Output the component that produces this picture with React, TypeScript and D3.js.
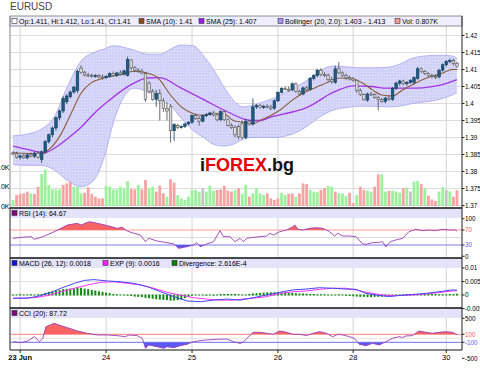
import React from 'react';
import * as d3 from 'd3';

// hourly EURUSD candles, 22 Jun 22:00 .. 30 Jun 03:00
const candleOpen = [
  1.3855, 1.3852, 1.3842, 1.3846, 1.3840, 1.3849, 1.3845, 1.3854, 1.3835, 1.3858,
  1.3888, 1.3908, 1.3928, 1.3958, 1.3978, 1.4005, 1.4020, 1.4034, 1.4038, 1.4104,
  1.4092, 1.4084, 1.4082, 1.4080, 1.4082, 1.4078, 1.4076, 1.4080, 1.4088, 1.4082,
  1.4090, 1.4086, 1.4082, 1.4128, 1.4105, 1.4098, 1.4095, 1.4088, 1.4060, 1.4036,
  1.4012, 1.4030, 1.4008, 1.3985, 1.3992, 1.3920, 1.3935, 1.3930, 1.3932, 1.3940,
  1.3945, 1.3965, 1.3956, 1.3948, 1.3964, 1.3968, 1.3972, 1.3966, 1.3952, 1.3976,
  1.3952, 1.3936, 1.3930, 1.3932, 1.3940, 1.3900, 1.3948, 1.3940, 1.3990, 1.3994,
  1.3988, 1.3992, 1.3990, 1.3986, 1.4008, 1.4032, 1.4044, 1.4042, 1.4040, 1.4058,
  1.4036, 1.4028, 1.4046, 1.4042, 1.4074, 1.4082, 1.4098, 1.4085, 1.4082, 1.4070,
  1.4062, 1.4102, 1.4090, 1.4082, 1.4076, 1.4072, 1.4068, 1.4038, 1.4026, 1.4010,
  1.4028, 1.4026, 1.4018, 1.4012, 1.4006, 1.4016, 1.4012, 1.4045, 1.4060, 1.4066,
  1.4058, 1.4062, 1.4062, 1.4074, 1.4102, 1.4094, 1.4088, 1.4082, 1.4080, 1.4078,
  1.4098, 1.4114, 1.4124, 1.4126, 1.4118,
];
const candleHigh = [
  1.3860, 1.3858, 1.3850, 1.3852, 1.3852, 1.3856, 1.3858, 1.3860, 1.3862, 1.3892,
  1.3912, 1.3932, 1.3962, 1.3982, 1.4022, 1.4028, 1.4038, 1.4052, 1.4100, 1.4112,
  1.4096, 1.4090, 1.4088, 1.4086, 1.4086, 1.4085, 1.4084, 1.4092, 1.4094, 1.4092,
  1.4098, 1.4100, 1.4138, 1.4130, 1.4110, 1.4104, 1.4102, 1.4092, 1.4066, 1.4042,
  1.4040, 1.4042, 1.4015, 1.4002, 1.3998, 1.3942, 1.3940, 1.3936, 1.3942, 1.3948,
  1.3968, 1.3970, 1.3962, 1.3968, 1.3972, 1.3976, 1.3978, 1.3972, 1.3980, 1.3980,
  1.3956, 1.3942, 1.3936, 1.3938, 1.3950, 1.3955, 1.3952, 1.4015, 1.3998, 1.3998,
  1.3996, 1.3998, 1.3996, 1.4012, 1.4036, 1.4048, 1.4050, 1.4050, 1.4062, 1.4062,
  1.4040, 1.4050, 1.4052, 1.4078, 1.4086, 1.4102, 1.4104, 1.4092, 1.4088, 1.4078,
  1.4112, 1.4122, 1.4094, 1.4088, 1.4082, 1.4078, 1.4070, 1.4044, 1.4030, 1.4032,
  1.4034, 1.4030, 1.4022, 1.4016, 1.4020, 1.4024, 1.4048, 1.4064, 1.4070, 1.4070,
  1.4066, 1.4072, 1.4080, 1.4108, 1.4106, 1.4098, 1.4092, 1.4088, 1.4086, 1.4102,
  1.4118, 1.4128, 1.4132, 1.4132, 1.4122,
];
const candleLow = [
  1.3848, 1.3838, 1.3835, 1.3838, 1.3836, 1.3842, 1.3840, 1.3838, 1.3825, 1.3852,
  1.3882, 1.3900, 1.3920, 1.3950, 1.3972, 1.3998, 1.4015, 1.4028, 1.4030, 1.4088,
  1.4080, 1.4078, 1.4076, 1.4076, 1.4074, 1.4070, 1.4072, 1.4076, 1.4078, 1.4078,
  1.4082, 1.4082, 1.4080, 1.4098, 1.4092, 1.4090, 1.4086, 1.4005, 1.4030, 1.4008,
  1.3990, 1.3950, 1.3975, 1.3950, 1.3885, 1.3890, 1.3925, 1.3926, 1.3928, 1.3936,
  1.3940, 1.3952, 1.3935, 1.3945, 1.3960, 1.3964, 1.3962, 1.3948, 1.3948, 1.3948,
  1.3932, 1.3925, 1.3900, 1.3895, 1.3895, 1.3895, 1.3935, 1.3935, 1.3984, 1.3985,
  1.3984, 1.3986, 1.3980, 1.3982, 1.4004, 1.4030, 1.4038, 1.4034, 1.4036, 1.4032,
  1.4024, 1.4024, 1.4036, 1.4038, 1.4068, 1.4078, 1.4080, 1.4078, 1.4066, 1.4058,
  1.4058, 1.4086, 1.4078, 1.4070, 1.4068, 1.4064, 1.4032, 1.4022, 1.4008, 1.4005,
  1.4022, 1.4014, 1.3980, 1.4002, 1.4000, 1.4008, 1.4008, 1.4040, 1.4052, 1.4054,
  1.4052, 1.4058, 1.4056, 1.4070, 1.4090, 1.4084, 1.4078, 1.4074, 1.4072, 1.4074,
  1.4094, 1.4108, 1.4118, 1.4112, 1.4104,
];
const candleClose = [
  1.3852, 1.3842, 1.3846, 1.3840, 1.3849, 1.3845, 1.3854, 1.3842, 1.3858, 1.3888,
  1.3908, 1.3928, 1.3958, 1.3978, 1.4015, 1.4022, 1.4034, 1.4048, 1.4094, 1.4092,
  1.4084, 1.4082, 1.4080, 1.4082, 1.4078, 1.4076, 1.4080, 1.4088, 1.4082, 1.4090,
  1.4086, 1.4096, 1.4130, 1.4105, 1.4098, 1.4095, 1.4090, 1.4012, 1.4036, 1.4012,
  1.4030, 1.4008, 1.3985, 1.3978, 1.3920, 1.3938, 1.3930, 1.3932, 1.3940, 1.3945,
  1.3965, 1.3956, 1.3948, 1.3964, 1.3968, 1.3972, 1.3966, 1.3952, 1.3976, 1.3952,
  1.3936, 1.3930, 1.3908, 1.3902, 1.3900, 1.3948, 1.3940, 1.3990, 1.3994, 1.3988,
  1.3992, 1.3990, 1.3986, 1.4008, 1.4032, 1.4044, 1.4042, 1.4038, 1.4058, 1.4036,
  1.4028, 1.4046, 1.4040, 1.4074, 1.4082, 1.4098, 1.4085, 1.4082, 1.4070, 1.4064,
  1.4102, 1.4090, 1.4082, 1.4076, 1.4072, 1.4068, 1.4038, 1.4026, 1.4012, 1.4028,
  1.4026, 1.4018, 1.4012, 1.4006, 1.4016, 1.4012, 1.4045, 1.4060, 1.4066, 1.4058,
  1.4062, 1.4068, 1.4076, 1.4102, 1.4094, 1.4088, 1.4082, 1.4080, 1.4076, 1.4098,
  1.4114, 1.4124, 1.4126, 1.4118, 1.4110,
];

// volume in K, with the bar tone (g = up, r = down, n = flat)
const volume = [
  0.31, 0.56, 0.62, 0.65, 0.74, 0.65, 0.62, 0.99, 1.64, 1.88,
  1.08, 0.85, 0.85, 0.85, 1.08, 1.16, 1.25, 0.99, 0.99, 0.65,
  0.68, 0.96, 0.62, 0.48, 0.39, 0.39, 1.03, 0.99, 0.85, 0.85,
  0.99, 0.91, 1.28, 0.87, 0.85, 1.08, 0.85, 1.33, 0.91, 0.99,
  0.74, 1.04, 0.65, 0.48, 1.37, 1.20, 0.56, 0.39, 0.31, 0.48,
  0.82, 0.82, 0.74, 0.91, 0.74, 1.04, 0.79, 0.82, 0.85, 1.03,
  0.79, 0.74, 0.82, 0.91, 0.62, 1.08, 0.48, 0.65, 0.91, 0.65,
  0.56, 0.65, 0.39, 0.31, 0.39, 0.68, 0.56, 0.62, 0.65, 0.48,
  0.65, 1.16, 1.13, 0.82, 0.74, 0.70, 0.82, 0.91, 1.03, 0.99,
  0.74, 0.65, 0.65, 0.51, 0.68, 0.14, 0.56, 0.99, 0.82, 0.79,
  0.74, 0.99, 1.62, 1.62, 0.74, 0.77, 0.79, 0.74, 0.68, 0.91,
  0.94, 0.74, 1.25, 1.28, 1.13, 0.91, 0.53, 0.34, 0.26, 0.74,
  0.96, 0.82, 0.75, 0.48, 0.807,
];
const volumeTone = [
  'g', 'r', 'r', 'r', 'r', 'g', 'r', 'r', 'g', 'g',
  'g', 'g', 'g', 'g', 'r', 'r', 'r', 'g', 'g', 'g',
  'r', 'r', 'r', 'r', 'r', 'r', 'g', 'g', 'g', 'g',
  'g', 'g', 'g', 'r', 'r', 'g', 'r', 'r', 'g', 'g',
  'r', 'r', 'r', 'g', 'r', 'r', 'g', 'g', 'g', 'g',
  'g', 'g', 'g', 'n', 'g', 'g', 'g', 'r', 'r', 'r',
  'r', 'r', 'g', 'r', 'g', 'g', 'r', 'g', 'g', 'g',
  'g', 'r', 'r', 'r', 'r', 'g', 'g', 'r', 'r', 'g',
  'r', 'r', 'r', 'g', 'g', 'g', 'r', 'r', 'g', 'g',
  'r', 'g', 'g', 'g', 'r', 'r', 'g', 'r', 'r', 'g',
  'g', 'r', 'r', 'g', 'g', 'r', 'g', 'g', 'g', 'r',
  'g', 'n', 'g', 'g', 'r', 'g', 'r', 'r', 'r', 'g',
  'g', 'n', 'g', 'r', 'r',
];

// overlays as [bar index, value]
const sma10 = [
  [0, 1.3855], [7.8, 1.3852], [10.6, 1.387], [13.4, 1.391], [16.2, 1.397], [19, 1.403],
  [21.7, 1.406], [24.5, 1.4072], [27.3, 1.408], [30, 1.4085], [33.8, 1.4095], [36.5, 1.4092],
  [40.2, 1.4078], [44, 1.4025], [47, 1.399], [50.4, 1.397], [53, 1.3965], [56, 1.397],
  [58.8, 1.397], [61.5, 1.395], [64, 1.3945], [67, 1.394], [69, 1.395], [72, 1.3965],
  [74.5, 1.398], [78, 1.401], [81, 1.403], [84.7, 1.4048], [88.4, 1.4065], [91, 1.4075],
  [95, 1.4072], [97.6, 1.406], [100.4, 1.404], [103, 1.4025], [106, 1.4022], [108.8, 1.404],
  [111.5, 1.4055], [114.3, 1.407], [117, 1.408], [120, 1.409], [122.6, 1.41], [124, 1.41],
];
const sma25 = [
  [0, 1.3875], [4, 1.3865], [8.8, 1.3855], [12.5, 1.3875], [15, 1.3895], [19, 1.393],
  [22.6, 1.397], [26.4, 1.4005], [30, 1.4035], [33.8, 1.406], [37.5, 1.4075], [41, 1.4076],
  [47, 1.4045], [53, 1.4013], [60, 1.3975], [66.6, 1.395], [69, 1.395], [72, 1.396],
  [78, 1.3975], [82, 1.3988], [85, 1.4005], [88, 1.4025], [91, 1.404], [95, 1.4052],
  [100, 1.405], [104.6, 1.4045], [110, 1.4045], [114.3, 1.4046], [119, 1.4053], [124, 1.407],
];

// Bollinger (20, 2.0) band edges at shared bar positions
const bollIdx = [
  0, 4, 8, 11.5, 15, 19, 22.6, 25.4, 28.2, 31, 33.8, 37.5, 41.2, 44, 46.7, 50.4, 53.2,
  56, 58.8, 61.5, 64.3, 67.1, 70, 72.7, 76.4, 80.1, 83.7, 85.6, 89.3, 93, 96.7, 100.4,
  104.1, 107.8, 111.5, 115.2, 119, 122.6, 124,
];
const bollUpper = [
  1.3905, 1.391, 1.3925, 1.396, 1.4045, 1.4125, 1.415, 1.416, 1.417, 1.4165, 1.4157,
  1.4145, 1.4145, 1.416, 1.4172, 1.417, 1.414, 1.41, 1.405, 1.401, 1.399, 1.3995,
  1.4005, 1.4015, 1.4035, 1.4055, 1.408, 1.4095, 1.411, 1.4108, 1.4105, 1.4105,
  1.4106, 1.4115, 1.4133, 1.414, 1.4142, 1.414, 1.4133,
];
const bollLower = [
  1.382, 1.3818, 1.3818, 1.3805, 1.3775, 1.3755, 1.3775, 1.384, 1.395, 1.402, 1.4045,
  1.4035, 1.401, 1.3995, 1.396, 1.392, 1.39, 1.388, 1.3875, 1.388, 1.3895, 1.39,
  1.39, 1.39, 1.3905, 1.392, 1.3945, 1.396, 1.398, 1.3988, 1.3992, 1.3992,
  1.399, 1.3992, 1.4, 1.4005, 1.4012, 1.4025, 1.4032,
];

const rsi = [
  [0, 47.8], [2.3, 50.4], [5.1, 52.2], [6, 45.1], [7.8, 50.4], [10.6, 61.1], [13.4, 74.4],
  [15.2, 83.3], [18, 87.8], [19, 83.3], [21.3, 92.2], [23.6, 87.8], [26.4, 81.6], [29.1, 74.4],
  [30.5, 77.1], [31.9, 67.3], [33.8, 61.1], [35.6, 56.7], [37, 38.9], [37.9, 47.8], [40.2, 40.7],
  [43, 36.2], [44.9, 32.7], [46.3, 21.1], [48.6, 25.6], [50.4, 30], [51.3, 36.2], [52.3, 25.6],
  [54.1, 32.7], [56, 38.9], [57.8, 68.2], [58.8, 52.2], [60.6, 52.2], [62, 38.9], [63.4, 47.8],
  [64.3, 38.9], [65.3, 47.8], [67.1, 50.4], [69, 52.2], [70.8, 54], [71.7, 61.1], [72.7, 56.7],
  [74.5, 65.6], [76.4, 70], [78.2, 78.9], [78.7, 83.3], [79.6, 71.8], [81, 70], [82.8, 74.4],
  [84.7, 76.2], [86.5, 74.4], [88.4, 65.6], [89.8, 54], [90.7, 61.1], [92.1, 54], [94, 54],
  [95.8, 52.2], [97.7, 32.7], [98.6, 31.8], [100.4, 36.2], [102.3, 37.1], [103.2, 38.9],
  [104.1, 25.6], [105.5, 38.9], [106.9, 43.3], [108.8, 47.8], [110.6, 65.6], [112.5, 71.8],
  [114.3, 68.2], [116.2, 70], [118, 68.2], [119.9, 71.8], [121.7, 70], [123.6, 70], [124, 66.5],
];

const macd = [
  [0, -0.0012], [4.1, -0.0012], [7.8, -0.0002], [10.6, 0.001], [13.4, 0.0025], [17.1, 0.0043],
  [19.9, 0.0054], [22.6, 0.0057], [26.4, 0.0052], [30, 0.0049], [33.8, 0.0043], [37.5, 0.0031],
  [41.2, 0.0012], [44.9, -0.0006], [48.6, -0.0022], [52.3, -0.0025], [56, -0.0019], [59.7, -0.0015],
  [63.4, -0.0019], [67.1, -0.001], [70.8, 0], [74.5, 0.001], [78.2, 0.0019], [81.9, 0.0022],
  [85.6, 0.0027], [89.3, 0.0025], [93, 0.0022], [95.8, 0.0021], [98.6, 0.0006], [102.3, -0.0002],
  [105.1, -0.0006], [107.8, -0.0002], [111.5, 0.0002], [115.3, 0.0006], [119, 0.0012],
  [122.7, 0.0019], [124, 0.0018],
];
const macdSignal = [
  [0, -0.0012], [6, -0.001], [9.7, -0.0002], [13.4, 0.0012], [17.1, 0.0025], [20.8, 0.0037],
  [24.5, 0.0047], [28.2, 0.0049], [31.9, 0.0043], [35.6, 0.0037], [39.3, 0.0025], [43, 0.001],
  [46.7, 0], [50.4, -0.001], [54.1, -0.0015], [57.8, -0.0019], [61.5, -0.0019], [63.4, -0.0016],
  [67.1, -0.0012], [70.8, -0.0006], [74.5, 0.0006], [78.2, 0.0012], [81.9, 0.0015], [85.6, 0.0021],
  [89.3, 0.0025], [93, 0.0025], [95.8, 0.0019], [98.6, 0.001], [102.3, 0.0002], [105.1, -0.0002],
  [107.8, -0.0002], [111.5, 0], [115.3, 0.0004], [119, 0.0009], [122.7, 0.0015], [124, 0.0016],
];
const divergence = [
  0.0000, 0.0000, 0.0001, 0.0000, 0.0000, 0.0001, 0.0000, 0.0001, 0.0002, 0.0006,
  0.0010, 0.0012, 0.0015, 0.0017, 0.0020, 0.0021, 0.0022, 0.0023, 0.0025, 0.0025,
  0.0022, 0.0020, 0.0017, 0.0015, 0.0012, 0.0010, 0.0007, 0.0005, 0.0002, 0.0001,
  0.0000, 0.0000, -0.0001, -0.0002, -0.0004, -0.0005, -0.0006, -0.0009, -0.0010, -0.0012,
  -0.0014, -0.0015, -0.0016, -0.0017, -0.0019, -0.0019, -0.0017, -0.0015, -0.0010, -0.0005,
  -0.0001, 0.0000, 0.0000, 0.0000, -0.0001, 0.0000, -0.0001, 0.0000, 0.0002, 0.0002,
  0.0002, 0.0002, 0.0002, 0.0001, 0.0000, 0.0000, 0.0002, 0.0004, 0.0005, 0.0006,
  0.0007, 0.0008, 0.0008, 0.0008, 0.0008, 0.0007, 0.0007, 0.0006, 0.0006, 0.0005,
  0.0004, 0.0004, 0.0003, 0.0002, 0.0002, 0.0001, 0.0001, 0.0001, 0.0000, 0.0000,
  0.0000, 0.0001, 0.0000, -0.0001, -0.0002, -0.0003, -0.0004, -0.0005, -0.0005, -0.0006,
  -0.0006, -0.0005, -0.0005, -0.0004, -0.0003, -0.0002, -0.0001, 0.0000, 0.0000, 0.0001,
  0.0001, 0.0001, 0.0001, 0.0002, 0.0002, 0.0002, 0.0002, 0.0002, 0.0002, 0.0001,
  0.0001, 0.0001, 0.0002, 0.0002, 0.00026,
];

const cci = [
  [0, -84], [2.3, -109], [4.1, -67], [6, 41], [7.4, -84], [8.3, 0], [9.2, 291], [11.5, 374],
  [13.4, 316], [15.2, 266], [18, 183], [20.8, 124], [23.6, 83], [26.4, 83], [29.1, 66],
  [31.4, 41], [32.4, 83], [34.7, 66], [36.1, 0], [37, -250], [37.9, -167], [40.2, -209],
  [42.1, -250], [43, -209], [44.9, -234], [46.7, -184], [48.6, -150], [50.4, -84], [52.3, -59],
  [54.1, -42], [56.9, -26], [59.7, -17], [61.5, -84], [63.4, -126], [64.3, -100], [65.3, 0],
  [67.1, 150], [69, 150], [70.8, 124], [72.7, 100], [74.5, 183], [76.4, 150], [78.2, 100],
  [80.1, 100], [81.9, 66], [83.8, 124], [85.6, 166], [87.5, 124], [89.3, 41], [90.7, 100],
  [92.1, 83], [94, 41], [95.3, 0], [96.7, -150], [98.6, -184], [100.4, -126], [102.3, -167],
  [104.1, -84], [106, 0], [107.8, 41], [108.8, 20], [109.7, 58], [111.5, 66], [113.4, 183],
  [115.3, 150], [117.1, 124], [119, 150], [120.8, 166], [122.7, 150], [124, 90],
];

const priceTicks = [1.37, 1.375, 1.38, 1.385, 1.39, 1.395, 1.4, 1.405, 1.41, 1.415, 1.42];
const volumeTicks = [0, 1, 2];
const volumeTickLabels = ['0K', '1.0K', '2.0K'];
const rsiTicks = [0, 30, 70, 100];
const macdTicks = [-0.005, 0, 0.005, 0.01];
const cciTicks = [-500, -100, 100, 500];
const dayTicks = [2, 26, 50, 74, 95, 121];
const dayLabels = ['23 Jun', '24', '25', '26', '28', '30'];

const FONT = 'Liberation Sans, Arial, sans-serif';
const L = 10;
const R = 462;
const AXIS_FS = 6.3;

const App = () => {
  const x = d3.scaleLinear().domain([0, 124]).range([13, 457]);
  const yP = d3.scaleLinear().domain([1.37, 1.42]).range([205.5, 35.5]);
  const yV = d3.scaleLinear().domain([0, 2]).range([206, 167]);
  const yR = d3.scaleLinear().domain([0, 100]).range([256.25, 218.75]);
  const yM = d3.scaleLinear().domain([-0.005, 0.01]).range([308.5, 268]);
  const yC = d3.scaleLinear().domain([-500, 500]).range([358.3, 318.3]);

  const lineOf = (y, curve = d3.curveLinear) =>
    d3.line().x(d => x(d[0])).y(d => y(d[1])).curve(curve);

  const bandArea = d3.area()
    .x(i => x(bollIdx[i]))
    .y0(i => yP(bollLower[i]))
    .y1(i => yP(bollUpper[i]))
    .curve(d3.curveMonotoneX);
  const bandEdge = (vals) => d3.line()
    .x(i => x(bollIdx[i]))
    .y(i => yP(vals[i]))
    .curve(d3.curveMonotoneX)(d3.range(bollIdx.length));

  const fillAbove = (pts, y, level) =>
    d3.area().x(d => x(d[0])).y0(y(level)).y1(d => y(d[1]))(pts);

  const bw = 2.6;

  const vGrid = (y1, y2) => dayTicks.map(t => (
    <line key={t} x1={x(t)} x2={x(t)} y1={y1} y2={y2} stroke="#d4d4d4" strokeWidth={1} />
  ));

  const legendBox = (cx, cy, color) => (
    <rect x={cx} y={cy} width={5} height={5} fill={color} stroke="#333" strokeWidth={0.6} />
  );

  const axisLabel = (key, y, label, fill = '#000') => (
    <g key={key}>
      <line x1={R} x2={R + 2.5} y1={y} y2={y} stroke="#222" />
      <text x={R + 3} y={y + 2.3} fontSize={AXIS_FS} fill={fill}>{label}</text>
    </g>
  );

  return (
    <svg width={480} height={370} style={{ position: 'absolute', left: 0, top: 0, background: '#fff' }}
      fontFamily={FONT}>
      <defs>
        <clipPath id="rsiHi"><rect x={L} y={208} width={R - L} height={yR(70) - 208} /></clipPath>
        <clipPath id="rsiLo"><rect x={L} y={yR(30)} width={R - L} height={258 - yR(30)} /></clipPath>
        <clipPath id="cciHi"><rect x={L} y={308} width={R - L} height={yC(100) - 308} /></clipPath>
        <clipPath id="cciLo"><rect x={L} y={yC(-100)} width={R - L} height={350 - yC(-100)} /></clipPath>
        <pattern id="dots" width={3} height={3} patternUnits="userSpaceOnUse">
          <rect width={3} height={3} fill="#d2d2f8" />
          <rect width={1} height={1} fill="#e8e8fc" />
        </pattern>
      </defs>

      <text x={10} y={10} fontSize={10} fill="#444">EURUSD</text>

      {/* main panel */}
      <rect x={L} y={16} width={R - L} height={192} fill="#fff" />
      {priceTicks.map(t => (
        <line key={t} x1={L} x2={R} y1={yP(t)} y2={yP(t)} stroke="#dcdcdc" />
      ))}
      {vGrid(26, 208)}

      <path d={bandArea(d3.range(bollIdx.length))} fill="url(#dots)" stroke="none" />
      <path d={bandEdge(bollUpper)} fill="none" stroke="#a4a4f2" strokeWidth={0.8} />
      <path d={bandEdge(bollLower)} fill="none" stroke="#a4a4f2" strokeWidth={0.8} />

      <text x={200} y={171} fontSize={18} fontWeight="bold">
        <tspan fill="#111">i</tspan><tspan fill="#e60000">FOREX</tspan><tspan fill="#111">.bg</tspan>
      </text>

      {volume.map((v, i) => (
        <rect key={i} x={x(i) - 1.4} y={yV(v)} width={2.8} height={yV(0) - yV(v)}
          fill={volumeTone[i] === 'g' ? '#9cf29c' : volumeTone[i] === 'r' ? '#f7a3a3' : '#c4c4c4'} />
      ))}

      <path d={lineOf(yP, d3.curveMonotoneX)(sma25)} fill="none" stroke="#a633e8" strokeWidth={1.3} />
      <path d={lineOf(yP, d3.curveMonotoneX)(sma10)} fill="none" stroke="#8a5a3a" strokeWidth={1.1} />

      {candleClose.map((c, i) => {
        const o = candleOpen[i];
        const up = c >= o;
        const top = yP(Math.max(o, c));
        const h = Math.max(1, Math.abs(yP(o) - yP(c)));
        return (
          <g key={i}>
            <line x1={x(i)} x2={x(i)} y1={yP(candleHigh[i])} y2={yP(candleLow[i])}
              stroke={up ? '#163e5a' : '#444'} strokeWidth={0.8} />
            <rect x={x(i) - bw / 2} y={top} width={bw} height={h}
              fill={up ? '#1b5b84' : '#dcdcdc'} stroke={up ? '#163e5a' : '#555'} strokeWidth={0.6} />
          </g>
        );
      })}

      <rect x={L} y={16} width={R - L} height={10} fill="#eeeefe" stroke="#777" strokeWidth={0.8} />
      {legendBox(12, 18.5, '#fff')}
      <text x={19} y={23.5} fontSize={7}>Op:1.411, Hi:1.412, Lo:1.41, Cl:1.41</text>
      {legendBox(139, 18.5, '#8a4a1a')}
      <text x={146} y={23.5} fontSize={7}>SMA (10): 1.41</text>
      {legendBox(199, 18.5, '#9a1ae8')}
      <text x={206} y={23.5} fontSize={7}>SMA (25): 1.407</text>
      {legendBox(278, 18.5, '#9a9af8')}
      <text x={285} y={23.5} fontSize={7}>Bollinger (20, 2.0): 1.403 - 1.413</text>
      {legendBox(395, 18.5, '#f39a9a')}
      <text x={402} y={23.5} fontSize={7}>Vol: 0.807K</text>

      <line x1={L} x2={L} y1={16} y2={208} stroke="#888" />

      {volumeTicks.map((t, k) => (
        <text key={t} x={9.5} y={yV(t) + 2.5} fontSize={7} textAnchor="end">{volumeTickLabels[k]}</text>
      ))}

      {/* RSI panel */}
      <rect x={L} y={208} width={R - L} height={10} fill="#e3e3f9" />
      <line x1={L} x2={R} y1={yR(50)} y2={yR(50)} stroke="#dcdcdc" />
      {vGrid(218, 258)}
      <line x1={L} x2={R} y1={yR(70)} y2={yR(70)} stroke="#ff9a9a" strokeWidth={1} />
      <line x1={L} x2={R} y1={yR(30)} y2={yR(30)} stroke="#7a7af0" strokeWidth={1} />
      <path d={fillAbove(rsi, yR, 70)} fill="#f86464" clipPath="url(#rsiHi)" />
      <path d={fillAbove(rsi, yR, 30)} fill="#5a5af0" clipPath="url(#rsiLo)" />
      <path d={lineOf(yR)(rsi)} fill="none" stroke="#9a3cb8" strokeWidth={0.9} />
      {legendBox(12, 210.5, '#800080')}
      <text x={19} y={216} fontSize={7}>RSI (14): 64.67</text>

      {/* MACD panel */}
      <rect x={L} y={258} width={R - L} height={10} fill="#e3e3f9" />
      <line x1={L} x2={R} y1={yM(0.005)} y2={yM(0.005)} stroke="#e0e0e0" />
      <line x1={L} x2={R} y1={yM(0)} y2={yM(0)} stroke="#e0e0e0" />
      {vGrid(268, 308)}
      {divergence.map((v, i) => (
        <rect key={i} x={x(i) - 1} y={Math.min(yM(0), yM(v)) - 0.5} width={2}
          height={Math.abs(yM(v) - yM(0)) + 1} fill="#138a13" />
      ))}
      <path d={lineOf(yM)(macdSignal)} fill="none" stroke="#ff33ff" strokeWidth={1} />
      <path d={lineOf(yM)(macd)} fill="none" stroke="#4646f5" strokeWidth={1} />
      {legendBox(12, 260.5, '#1010e0')}
      <text x={19} y={266} fontSize={7}>MACD (26, 12): 0.0018</text>
      {legendBox(103, 260.5, '#ff20ff')}
      <text x={110} y={266} fontSize={7}>EXP (9): 0.0016</text>
      {legendBox(172, 260.5, '#008000')}
      <text x={179} y={266} fontSize={7}>Divergence: 2.616E-4</text>

      {/* CCI panel */}
      <rect x={L} y={308} width={R - L} height={10} fill="#e3e3f9" />
      <line x1={L} x2={R} y1={yC(0)} y2={yC(0)} stroke="#e4e4e4" />
      {vGrid(318, 350)}
      <line x1={L} x2={R} y1={yC(100)} y2={yC(100)} stroke="#ffa0a0" strokeWidth={1.2} />
      <line x1={L} x2={R} y1={yC(-100)} y2={yC(-100)} stroke="#7a7af0" strokeWidth={1} />
      <path d={fillAbove(cci, yC, 100)} fill="#f86464" clipPath="url(#cciHi)" />
      <path d={fillAbove(cci, yC, -100)} fill="#5a5af0" clipPath="url(#cciLo)" />
      <path d={lineOf(yC)(cci)} fill="none" stroke="#9a3cb8" strokeWidth={0.9} />
      {legendBox(12, 310.5, '#800080')}
      <text x={19} y={316} fontSize={7}>CCI (20): 87.72</text>

      {/* frames */}
      <line x1={L} x2={L} y1={208} y2={350} stroke="#222" />
      <line x1={R} x2={R} y1={16} y2={350} stroke="#222" />
      <line x1={L} x2={R} y1={208} y2={208} stroke="#111" strokeWidth={1.5} />
      <line x1={L} x2={R} y1={258} y2={258} stroke="#111" strokeWidth={1.5} />
      <line x1={L} x2={R} y1={308} y2={308} stroke="#111" strokeWidth={1.5} />
      <line x1={L} x2={R} y1={350} y2={350} stroke="#111" strokeWidth={1.2} />

      {/* right axes */}
      {priceTicks.map(t => axisLabel(`p${t}`, yP(t), String(t)))}
      {rsiTicks.map(t => axisLabel(`r${t}`, yR(t), String(t),
        t === 70 ? '#ff6060' : t === 30 ? '#6060ff' : '#000'))}
      {macdTicks.map(t => axisLabel(`m${t}`, yM(t), String(t)))}
      {cciTicks.map(t => axisLabel(`c${t}`, yC(t), String(t),
        t === 100 ? '#ff6060' : t === -100 ? '#6060ff' : '#000'))}

      {/* date axis */}
      {dayTicks.map((t, k) => (
        <g key={t}>
          <line x1={x(t)} x2={x(t)} y1={350} y2={353} stroke="#222" />
          <text x={x(t)} y={360} fontSize={7.5} textAnchor="middle"
            fontWeight={k === 0 ? 'bold' : 'normal'}>{dayLabels[k]}</text>
        </g>
      ))}
    </svg>
  );
};

export default App;
